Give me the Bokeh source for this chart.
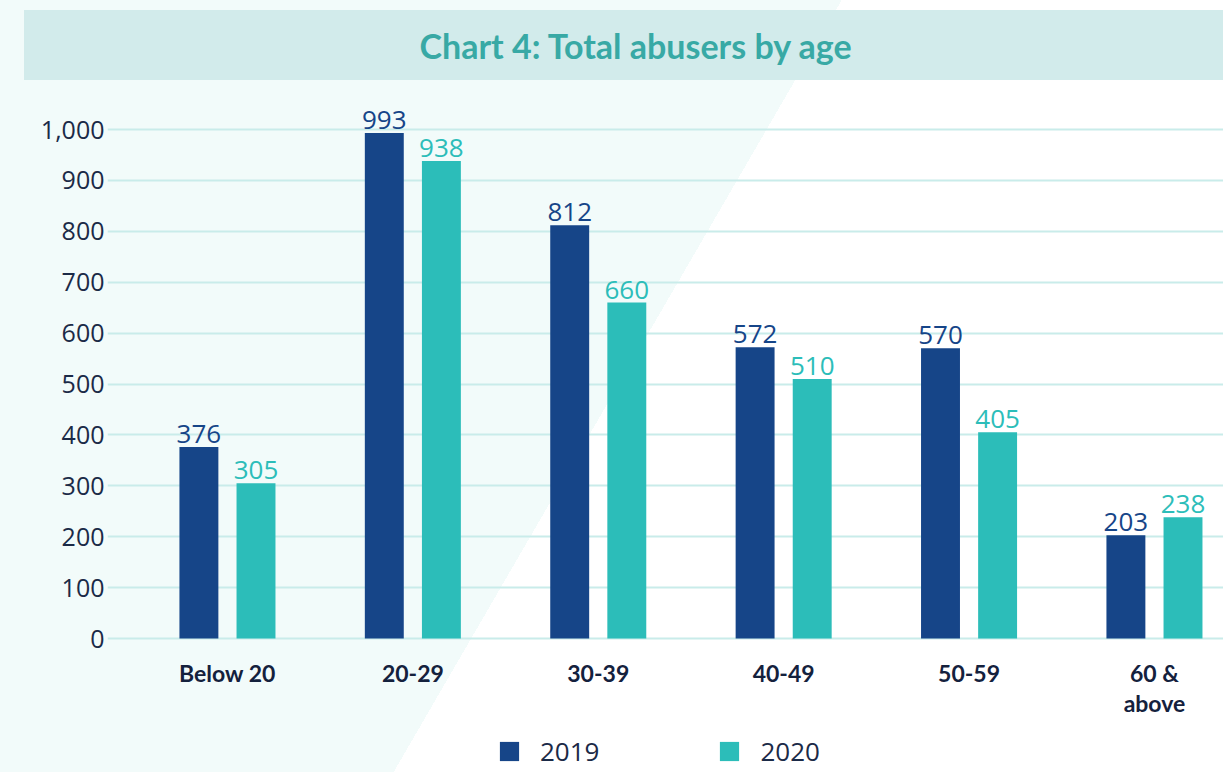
import numpy as np
from bokeh.plotting import figure
from bokeh.models import (ColumnDataSource, Range1d, FixedTicker, NumeralTickFormatter,
                          Label, Legend, LegendItem)
from bokeh.core.properties import value
from bokeh.embed import file_html
from bokeh.resources import INLINE

# ---- data ----
categories = ["Below 20", "20-29", "30-39", "40-49", "50-59", "60 &\nabove"]
values_2019 = [376, 993, 812, 572, 570, 203]
values_2020 = [305, 938, 660, 510, 405, 238]
series_names = ["2019", "2020"]
y_ticks = [0, 100, 200, 300, 400, 500, 600, 700, 800, 900, 1000]
title_text = "Chart 4: Total abusers by age"

# ---- styling / layout ----
C2019 = "#164588"
C2020 = "#2CBDB9"
BG = "#F2FBFA"
BANNER = "#D2EBEB"
TITLE_C = "#38A9A5"
TEXT_C = "#1B2A47"
XLAB_C = "#14213D"

W, H = 1223, 772
FL, FR, FT, FB = 107, 1223, 0, 772
ZERO_PX = 638
PXU = 0.509  # px per y unit
Y1 = (ZERO_PX - FT) / PXU
Y0 = -(FB - ZERO_PX) / PXU
X0 = -0.647
X1 = X0 + (FR - FL) / 185.4
DODGE = 0.154
BAR_W = 0.21


def px_x(cx):
    return X0 + (cx - FL) * (X1 - X0) / (FR - FL)


def px_y(cy):
    return Y0 + (FB - cy) * (Y1 - Y0) / (FB - FT)


x = np.arange(len(categories))
src = ColumnDataSource(dict(
    x19=x - DODGE, x20=x + DODGE,
    v19=values_2019, v20=values_2020,
    t19=[str(v) for v in values_2019], t20=[str(v) for v in values_2020],
))

p = figure(width=W, height=H, x_range=Range1d(X0, X1), y_range=Range1d(Y0, Y1),
           output_backend="svg", toolbar_location=None,
           min_border_left=FL, min_border_right=0, min_border_top=0,
           min_border_bottom=0)
p.outline_line_color = None
p.background_fill_alpha = 0
p.border_fill_alpha = 0
# page background: light/white diagonal split + title banner
p.styles = {
    "background-color": "#FFFFFF",
    "background-image": (f"linear-gradient({BANNER}, {BANNER}), "
                         f"linear-gradient(120.13deg, {BG} 728px, #FFFFFF 728px)"),
    "background-size": "1199px 70px, 100% 100%",
    "background-position": "24px 10px, 0px 0px",
    "background-repeat": "no-repeat",
}

p.add_layout(Label(x=px_x(636), y=px_y(45), text=title_text, text_align="center",
                   text_baseline="middle", text_font="Lato", text_font_style="bold",
                   text_font_size="34px", text_color=TITLE_C))

r1 = p.vbar(x="x19", top="v19", width=BAR_W, bottom=0, source=src, color=C2019, line_color=None)
r2 = p.vbar(x="x20", top="v20", width=BAR_W, bottom=0, source=src, color=C2020, line_color=None)

for xc, vc, tc, col in (("x19", "v19", "t19", C2019), ("x20", "v20", "t20", C2020)):
    p.text(x=xc, y=vc, text=tc, source=src, text_align="center", text_baseline="alphabetic",
           y_offset=-13, text_font=value("Open Sans"), text_font_size="26px", text_color=col)

# axes
p.xaxis.fixed_location = 0
p.xaxis.ticker = FixedTicker(ticks=list(x))
p.xaxis.major_label_overrides = {int(i): c for i, c in zip(x, categories)}
p.xaxis.axis_line_color = None
p.xaxis.major_tick_line_color = None
p.xaxis.minor_tick_line_color = None
p.xaxis.major_tick_out = 0
p.xaxis.major_tick_in = 0
p.xaxis.major_label_standoff = 20
p.xaxis.major_label_text_font = "Lato"
p.xaxis.major_label_text_font_style = "bold"
p.xaxis.major_label_text_font_size = "23px"
p.xaxis.major_label_text_line_height = 1.1
p.xaxis.major_label_text_color = XLAB_C

p.yaxis.ticker = FixedTicker(ticks=y_ticks)
p.yaxis.formatter = NumeralTickFormatter(format="0,0")
p.yaxis.axis_line_color = None
p.yaxis.major_tick_line_color = None
p.yaxis.minor_tick_line_color = None
p.yaxis.major_tick_out = 0
p.yaxis.major_tick_in = 0
p.yaxis.major_label_standoff = 3
p.yaxis.major_label_text_font = "Open Sans"
p.yaxis.major_label_text_font_size = "25px"
p.yaxis.major_label_text_color = TEXT_C

p.xgrid.grid_line_color = None
p.ygrid.ticker = FixedTicker(ticks=y_ticks)
p.ygrid.grid_line_color = "#C9ECEA"
p.ygrid.grid_line_width = 2

legend = Legend(items=[LegendItem(label=series_names[0], renderers=[r1]),
                       LegendItem(label=series_names[1], renderers=[r2])],
                orientation="horizontal", location=(497 - FL, 3),
                glyph_width=24, glyph_height=24, label_standoff=19, spacing=118,
                padding=0, margin=0, border_line_color=None, background_fill_alpha=0,
                label_text_font="Open Sans", label_text_font_size="26px",
                label_text_color=TEXT_C, label_height=24)
p.add_layout(legend)

open("out.html", "w").write(file_html(p, INLINE))
